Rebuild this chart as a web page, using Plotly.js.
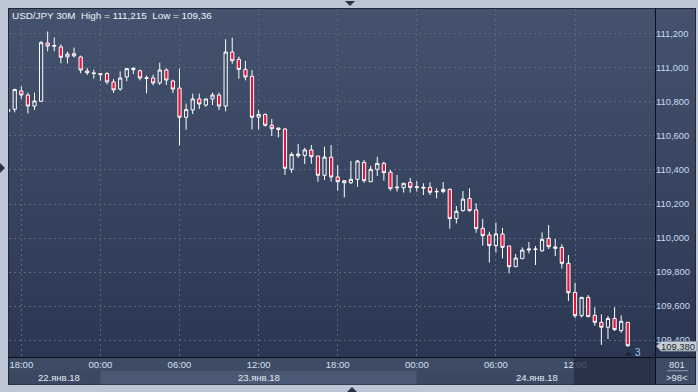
<!DOCTYPE html>
<html><head><meta charset="utf-8">
<script src="https://cdn.plot.ly/plotly-3.0.1.min.js"></script>
<style>
html,body{margin:0;padding:0;background:#bcc6d4;width:698px;height:392px;overflow:hidden;}
#frame{position:absolute;left:8px;top:8px;width:688px;height:377px;background:linear-gradient(to bottom,#44526d 0%,#2b3752 94%);box-shadow:inset 0 0 0 1px #1f2738;}
#xbg{position:absolute;left:9px;top:357px;width:686px;height:27px;background:#3e4b65;}
#chart{position:absolute;left:0;top:0;width:698px;height:392px;}
.tri{position:absolute;width:0;height:0;}
#tTop{left:345px;top:1px;border-left:5px solid transparent;border-right:5px solid transparent;border-top:5px solid #2a3345;}
#tBot{left:347px;top:387px;border-left:5px solid transparent;border-right:5px solid transparent;border-bottom:5px solid #2a3345;}
#tLeft{left:0px;top:163px;border-top:5px solid transparent;border-bottom:5px solid transparent;border-left:5px solid #2a3345;}
</style></head>
<body>
<div id="frame"></div>
<div id="xbg"></div>
<div class="tri" id="tTop"></div>
<div class="tri" id="tBot"></div>
<div class="tri" id="tLeft"></div>
<div id="chart"></div>
<script>
// ---- data (USD/JPY, 30-minute candles, first candle 22 Jan 2018 17:00) ----
const firstCandle = '2018-01-22T17:00:00Z';
const opens = [110.743,110.757,110.865,110.841,110.776,110.804,111.147,111.128,111.124,111.065,
111.084,111.065,110.982,110.971,110.967,110.967,110.918,110.876,110.947,110.990,
110.984,110.943,110.941,110.912,110.988,110.924,110.882,110.710,110.753,110.818,
110.782,110.818,110.841,110.776,111.094,111.051,110.992,110.951,110.710,110.727,
110.663,110.647,110.641,110.404,110.484,110.486,110.518,110.482,110.369,110.476,
110.359,110.337,110.325,110.345,110.445,110.331,110.404,110.439,110.387,110.300,
110.296,110.327,110.302,110.298,110.298,110.274,110.273,110.286,110.114,110.161,
110.233,110.165,110.057,110.018,109.955,110.024,109.953,109.831,109.878,109.929,
109.935,109.925,109.998,109.939,109.945,109.851,109.680,109.543,109.651,109.545,
109.504,109.475,109.527,109.455,109.504];
const highs = [110.760,110.878,110.892,110.855,110.855,111.159,111.215,111.180,111.139,111.096,
111.120,111.073,111.000,110.990,110.969,110.975,110.935,110.980,110.998,111.004,
110.990,110.955,110.961,111.031,110.998,110.931,110.996,110.790,110.849,110.849,
110.818,110.855,110.855,111.169,111.178,111.067,111.041,110.988,110.753,110.733,
110.700,110.647,110.647,110.504,110.553,110.531,110.547,110.482,110.537,110.547,
110.429,110.337,110.453,110.459,110.459,110.424,110.478,110.449,110.400,110.371,
110.322,110.353,110.335,110.322,110.327,110.292,110.329,110.292,110.188,110.276,
110.292,110.204,110.112,110.037,110.090,110.059,109.953,109.906,109.945,109.976,
109.953,110.033,110.076,109.994,109.963,109.900,109.737,109.651,109.665,109.592,
109.551,109.541,109.592,109.545,109.504];
const lows = [110.740,110.739,110.818,110.733,110.753,110.800,111.098,111.098,111.027,111.027,
111.063,110.969,110.959,110.937,110.925,110.904,110.853,110.867,110.922,110.965,
110.927,110.851,110.898,110.900,110.900,110.853,110.545,110.637,110.729,110.759,
110.771,110.782,110.753,110.745,111.025,110.937,110.927,110.639,110.639,110.655,
110.600,110.592,110.371,110.384,110.471,110.435,110.437,110.331,110.341,110.331,
110.278,110.239,110.318,110.302,110.325,110.331,110.365,110.337,110.278,110.273,
110.267,110.267,110.273,110.253,110.253,110.233,110.263,110.055,110.086,110.155,
110.155,110.031,109.955,109.855,109.914,109.880,109.792,109.831,109.878,109.910,
109.841,109.918,109.935,109.894,109.820,109.629,109.529,109.533,109.537,109.484,
109.371,109.406,109.453,109.443,109.360];
const closes = [110.757,110.873,110.841,110.776,110.806,111.149,111.129,111.132,111.063,111.082,
111.071,110.988,110.973,110.968,110.961,110.918,110.871,110.941,110.996,110.998,
110.941,110.939,110.912,110.988,110.929,110.876,110.710,110.755,110.818,110.788,
110.818,110.841,110.776,111.094,111.043,110.992,110.947,110.710,110.727,110.663,
110.643,110.639,110.410,110.492,110.494,110.518,110.478,110.369,110.476,110.359,
110.331,110.325,110.345,110.453,110.337,110.404,110.439,110.384,110.290,110.296,
110.322,110.298,110.298,110.294,110.269,110.272,110.286,110.114,110.157,110.229,
110.161,110.055,110.014,109.955,110.024,109.945,109.831,109.882,109.929,109.935,
109.933,109.992,109.949,109.947,109.851,109.678,109.543,109.651,109.537,109.504,
109.475,109.527,109.461,109.510,109.366];
const priceTicks = [109.4,109.6,109.8,110.0,110.2,110.4,110.6,110.8,111.0,111.2];
const timeTicks = ['2018-01-22 18:00','2018-01-23 00:00','2018-01-23 06:00','2018-01-23 12:00','2018-01-23 18:00','2018-01-24 00:00','2018-01-24 06:00','2018-01-24 12:00'];
const timeTickText = ['18:00','00:00','06:00','12:00','18:00','00:00','06:00','12:00'];
const dayLabels = ['22.янв.18','23.янв.18','24.янв.18'];
const dayLabelPos = ['2018-01-22 20:50','2018-01-23 12:00','2018-01-24 09:05'];
const dayBands = [['2018-01-22 12:00','2018-01-23 00:00'],['2018-01-23 00:00','2018-01-24 00:00'],['2018-01-24 00:00','2018-01-24 11:54']];
const titleText = 'USD/JPY 30M  High = 111,215  Low = 109,36';
const lastPriceText = '109,380';
const xRange = ['2018-01-22 17:04','2018-01-24 18:04'];
const yRange = [109.30,111.347];

// ---- build ----
const t0 = Date.parse(firstCandle);
const times = opens.map((_, i) => new Date(t0 + i*1800000).toISOString().slice(0,16).replace('T',' '));

// pixel helpers for decorative elements (plot area x:9..655, y:9..357)
const PL=9, PR=655, PT=9, PB=357;
const px = v => (v-PL)/(PR-PL);
const py = v => (PB-v)/(PB-PT);

const font = 'Liberation Sans, Arial, sans-serif';
const grid = '#5a6882';

const trace = {
  type:'candlestick', x:times, open:opens, high:highs, low:lows, close:closes,
  whiskerwidth:0,
  increasing:{line:{color:'#ffffff',width:1}, fillcolor:'rgba(0,0,0,0)'},
  decreasing:{line:{color:'#ffffff',width:1}, fillcolor:'#e3163d'},
  hoverinfo:'skip'
};

const shapes = [];
const bandColors = ['#3b4862','#4b5975','#3b4862'];
dayBands.forEach((b,i)=>shapes.push({type:'rect', xref:'x', yref:'paper', x0:b[0], x1:b[1], y0:py(384.5), y1:py(371), fillcolor:bandColors[i], line:{width:0}, layer:'below'}));
// dark block at the right of the time scale
shapes.push({type:'rect', xref:'x', yref:'paper', x0:'2018-01-24 11:54', x1:xRange[1], y0:py(384.5), y1:py(357.5), fillcolor:'rgba(36,45,66,0.78)', line:{width:0}, layer:'above'});
// frame lines
shapes.push({type:'line', xref:'paper', yref:'paper', x0:px(655.5), x1:px(655.5), y0:py(8), y1:py(385), line:{color:'#0c1018',width:1}, layer:'above'});
shapes.push({type:'line', xref:'paper', yref:'paper', x0:px(8), x1:px(696), y0:py(357.5), y1:py(357.5), line:{color:'#0c1018',width:1}, layer:'above'});
shapes.push({type:'line', xref:'paper', yref:'paper', x0:px(667), x1:px(688), y0:py(370.7), y1:py(370.7), line:{color:'#8d9ab2',width:1}, layer:'above'});
// last price tag
shapes.push({type:'path', xref:'paper', yref:'paper', layer:'above',
  path:`M ${px(656.5)} ${py(346.2)} L ${px(661)} ${py(341.5)} L ${px(697)} ${py(341.5)} L ${px(697)} ${py(351)} L ${px(661)} ${py(351)} Z`,
  fillcolor:'#c9cfd8', line:{color:'#8893a3',width:1}});
// small marker near last candle
shapes.push({type:'path', xref:'paper', yref:'paper', layer:'above',
  path:`M ${px(625)} ${py(355.5)} L ${px(628.5)} ${py(351.5)} L ${px(632)} ${py(355.5)} Z`,
  fillcolor:'#1c2232', line:{width:0}});

const annotations = [
  {xref:'paper', yref:'paper', x:px(10), y:py(15), xanchor:'left', yanchor:'middle', text:titleText, showarrow:false, font:{family:font, size:9.9, color:'#eef2f8'}},
  {xref:'paper', yref:'paper', x:px(677), y:py(364.3), xanchor:'center', yanchor:'middle', text:'801', showarrow:false, font:{family:font, size:9.4, color:'#dbe4f2'}},
  {xref:'paper', yref:'paper', x:px(677), y:py(377.5), xanchor:'center', yanchor:'middle', text:'&gt;98&lt;', showarrow:false, font:{family:font, size:9.4, color:'#dbe4f2'}},
  {xref:'paper', yref:'paper', x:px(677.5), y:py(346.4), xanchor:'center', yanchor:'middle', text:lastPriceText, showarrow:false, font:{family:font, size:9.4, color:'#1a1d22'}},
  {xref:'paper', yref:'paper', x:px(637.5), y:py(352), xanchor:'center', yanchor:'middle', text:'3', showarrow:false, font:{family:font, size:10, color:'#9cc8f2'}}
];
dayLabels.forEach((d,i)=>annotations.push({xref:'x', yref:'paper', x:dayLabelPos[i], y:py(377.3), xanchor:'center', yanchor:'middle', text:d, showarrow:false, font:{family:font, size:9.5, color:'#e4eaf4'}}));

const layout = {
  width:698, height:392,
  margin:{l:PL, r:698-PR, t:PT, b:392-PB, pad:0},
  paper_bgcolor:'rgba(0,0,0,0)', plot_bgcolor:'rgba(0,0,0,0)',
  showlegend:false, separators:', ', boxgap:0.3,
  xaxis:{type:'date', range:xRange, rangeslider:{visible:false}, tickmode:'array', tickvals:timeTicks, ticktext:timeTickText,
    showgrid:true, gridcolor:grid, griddash:'2px,3px', gridwidth:1, ticks:'', showline:false, zeroline:false,
    tickfont:{family:font, size:9.5, color:'#d4e0f2'}, fixedrange:true},
  yaxis:{side:'right', range:yRange, tickvals:priceTicks, tickformat:'.3f', showgrid:true, gridcolor:grid, griddash:'2px,3px', gridwidth:1,
    ticks:'', showline:false, zeroline:false, tickfont:{family:font, size:9.4, color:'#cbdaf2'}, fixedrange:true},
  shapes:shapes, annotations:annotations
};
Plotly.newPlot('chart', [trace], layout, {staticPlot:true, displayModeBar:false});
</script>
</body></html>
